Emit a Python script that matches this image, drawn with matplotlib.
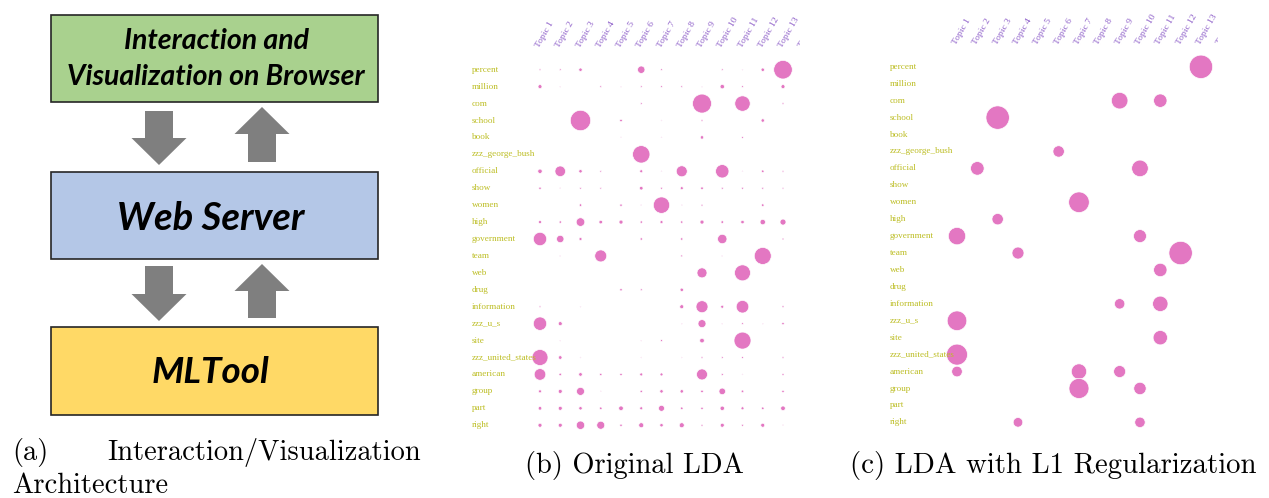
import matplotlib.pyplot as plt
from matplotlib.patches import Rectangle, FancyArrow

words = ['percent', 'million', 'com', 'school', 'book', 'zzz_george_bush',
         'official', 'show', 'women', 'high', 'government', 'team', 'web',
         'drug', 'information', 'zzz_u_s', 'site', 'zzz_united_states',
         'american', 'group', 'part', 'right']
topics = ['Topic %d' % k for k in range(1, 15)]

# word weight per topic (bubble radius scale), topics 1..13
lda_orig = [
    [0.9, 0.9, 1.7, 0, 0, 3.7, 0.9, 0, 0, 0.9, 0.6, 1.7, 9.3],
    [2.0, 0.6, 0, 0.9, 0.6, 0.9, 0.9, 0.9, 0.6, 2.2, 0.9, 0, 2.0],
    [0, 0, 0, 0, 0, 0.9, 0, 0, 9.5, 0, 7.7, 0, 0.9],
    [0, 0, 10.2, 0, 1.3, 0, 0.6, 0, 0.9, 0, 0, 1.7, 0],
    [0, 0, 0, 0, 0.6, 0, 0.6, 0, 1.7, 0, 0.9, 0, 0],
    [0, 0, 0, 0, 0, 8.7, 0, 0, 0, 0, 0, 0, 0],
    [2.2, 5.3, 1.7, 0.9, 0, 1.5, 0.6, 5.5, 0, 6.7, 0.6, 1.3, 0.9],
    [1.2, 0.6, 0.9, 0.9, 0, 1.8, 1.0, 1.5, 1.3, 1.0, 1.0, 1.0, 0.9],
    [0, 0, 1.3, 0, 1.2, 0.6, 8.2, 0.6, 1.0, 0, 0, 1.3, 0],
    [1.5, 1.2, 4.3, 1.8, 2.0, 1.2, 1.5, 1.2, 2.0, 1.3, 1.7, 2.7, 3.0],
    [6.7, 3.7, 1.5, 0, 0, 1.2, 0, 1.2, 0, 4.7, 0, 0, 1.0],
    [0, 0.6, 0, 6.0, 0, 0, 0, 1.0, 0, 0.6, 0, 8.5, 0],
    [0, 0, 0, 0, 0, 0, 0, 0, 5.0, 0, 8.0, 0, 0],
    [0, 0, 0, 0, 1.2, 1.0, 0, 1.7, 0, 0, 0, 0, 0],
    [0.9, 0, 0.6, 0, 0, 0, 0, 2.0, 6.0, 1.5, 6.3, 0, 1.0],
    [6.7, 2.0, 0, 0, 0, 0, 0, 0.6, 4.0, 0.6, 0.9, 0.6, 1.2],
    [0, 0.6, 0, 0, 0, 0.6, 1.0, 0, 2.3, 0, 8.5, 0, 0],
    [8.0, 1.8, 0.6, 0, 0, 0.6, 0, 0.6, 0.9, 0.9, 0.9, 0, 0.9],
    [5.8, 1.3, 1.8, 1.2, 1.2, 1.5, 1.5, 0, 5.5, 1.0, 0.6, 0, 1.0],
    [1.5, 2.0, 4.0, 0.6, 0, 1.2, 1.7, 1.7, 1.3, 3.3, 1.3, 0, 1.2],
    [1.8, 2.0, 1.7, 1.3, 2.3, 1.5, 3.0, 1.3, 1.2, 2.2, 1.5, 1.3, 2.3],
    [2.0, 2.0, 4.2, 4.0, 1.2, 2.5, 1.7, 2.5, 1.0, 2.0, 1.0, 2.0, 0.6],
]

lda_l1 = [
    [0, 0, 0, 0, 0, 0, 0, 0, 0, 0, 0, 0, 11.7],
    [0, 0, 0, 0, 0, 0, 0, 0, 0, 0, 0, 0, 0],
    [0, 0, 0, 0, 0, 0, 0, 0, 8.3, 0, 6.7, 0, 0],
    [0, 0, 11.7, 0, 0, 0, 0, 0, 0, 0, 0, 0, 0],
    [0, 0, 0, 0, 0, 0, 0, 0, 0, 0, 0, 0, 0],
    [0, 0, 0, 0, 0, 5.7, 0, 0, 0, 0, 0, 0, 0],
    [0, 6.8, 0, 0, 0, 0, 0, 0, 0, 8.3, 0, 0, 0],
    [0, 0, 0, 0, 0, 0, 0, 0, 0, 0, 0, 0, 0],
    [0, 0, 0, 0, 0, 0, 10.3, 0, 0, 0, 0, 0, 0],
    [0, 0, 5.7, 0, 0, 0, 0, 0, 0, 0, 0, 0, 0],
    [8.7, 0, 0, 0, 0, 0, 0, 0, 0, 6.5, 0, 0, 0],
    [0, 0, 0, 6.0, 0, 0, 0, 0, 0, 0, 0, 11.7, 0],
    [0, 0, 0, 0, 0, 0, 0, 0, 0, 0, 6.7, 0, 0],
    [0, 0, 0, 0, 0, 0, 0, 0, 0, 0, 0, 0, 0],
    [0, 0, 0, 0, 0, 0, 0, 0, 5.2, 0, 7.7, 0, 0],
    [9.8, 0, 0, 0, 0, 0, 0, 0, 0, 0, 0, 0, 0],
    [0, 0, 0, 0, 0, 0, 0, 0, 0, 0, 7.2, 0, 0],
    [10.5, 0, 0, 0, 0, 0, 0, 0, 0, 0, 0, 0, 0],
    [5.3, 0, 0, 0, 0, 0, 7.7, 0, 6.0, 0, 0, 0, 0],
    [0, 0, 0, 0, 0, 0, 10.0, 0, 0, 6.2, 0, 0, 0],
    [0, 0, 0, 0, 0, 0, 0, 0, 0, 0, 0, 0, 0],
    [0, 0, 0, 4.8, 0, 0, 0, 0, 0, 5.2, 0, 0, 0],
]

W, H = 1269, 498
fig = plt.figure(figsize=(W / 100, H / 100), dpi=100)

# background axes in pixel units for the architecture diagram and captions
bg = fig.add_axes([0, 0, 1, 1])
bg.set_xlim(0, W)
bg.set_ylim(H, 0)
bg.axis('off')

box_font = dict(family='Lato', weight='bold', style='italic', color='black',
                ha='center', va='center')
for y, h, c in [(15, 87, '#a9d18e'), (172, 87, '#b4c7e7'), (327, 88, '#ffd966')]:
    bg.add_patch(Rectangle((51, y), 327, h, facecolor=c, edgecolor='#262626', lw=1.2))
bg.text(217, 41, 'Interaction and', fontsize=20.5, **box_font)
bg.text(216, 77, 'Visualization on Browser', fontsize=20.5, **box_font)
bg.text(211, 218, 'Web Server', fontsize=27.5, **box_font)
bg.text(210, 372, 'MLTool', fontsize=26.5, **box_font)

arrow = dict(width=28, head_width=55, length_includes_head=True,
             color='#7f7f7f', lw=0)
for top, bottom in [(111, 165), (266, 321)]:
    bg.add_patch(FancyArrow(159, top, 0, bottom - top, head_length=27, **arrow))
for bottom, top in [(162, 107), (318, 264)]:
    bg.add_patch(FancyArrow(262, bottom, 0, top - bottom, head_length=27, **arrow))

cap = dict(family='cmr10', color='black', va='baseline')
bg.text(12, 460, '(a)', ha='left', fontsize=20.5, **cap)
bg.text(421, 460, 'Interaction/Visualization', ha='right', fontsize=20.5, **cap)
bg.text(12, 493, 'Architecture', ha='left', fontsize=20.5, **cap)
bg.text(525, 473, '(b) Original LDA', ha='left', fontsize=20.5, **cap)
bg.text(850, 473, '(c) LDA with L1 Regularization', ha='left', fontsize=20.8, **cap)


def bubble_panel(values, x0, x1, col0, col_step, row0, row_step, label_x):
    bottom = 440
    ax = fig.add_axes([x0 / W, 1 - bottom / H, (x1 - x0) / W, bottom / H])
    ax.set_xlim((x0 - col0) / col_step, (x1 - col0) / col_step)
    ax.set_ylim((bottom - row0) / row_step, -row0 / row_step)
    ax.axis('off')
    xs, ys, sizes = [], [], []
    for j, row in enumerate(values):
        for i, v in enumerate(row):
            if v > 0:
                xs.append(i)
                ys.append(j)
                sizes.append((1.44 * v) ** 2)
    ax.scatter(xs, ys, s=sizes, color='#e377c2', edgecolor='white',
               linewidth=0.5, zorder=2)
    for j, w in enumerate(words):
        ax.text(label_x, j + 0.12, w, family='Liberation Serif', fontsize=6.6,
                color='#bcbd22', ha='left', va='baseline', zorder=3)
    for i, t in enumerate(topics):
        ax.text(i + 0.05, -1.22, t, family='Liberation Serif', fontsize=6.8,
                color='#8c5cc8', rotation=60, rotation_mode='anchor',
                ha='left', va='bottom', clip_on=True)
    return ax


bubble_panel(lda_orig, 462, 800, 540, 20.25, 69.7, 16.93, -3.36)
bubble_panel(lda_l1, 880, 1218, 957, 20.33, 66.8, 16.93, -3.30)

fig.savefig('out.png', dpi=100)
